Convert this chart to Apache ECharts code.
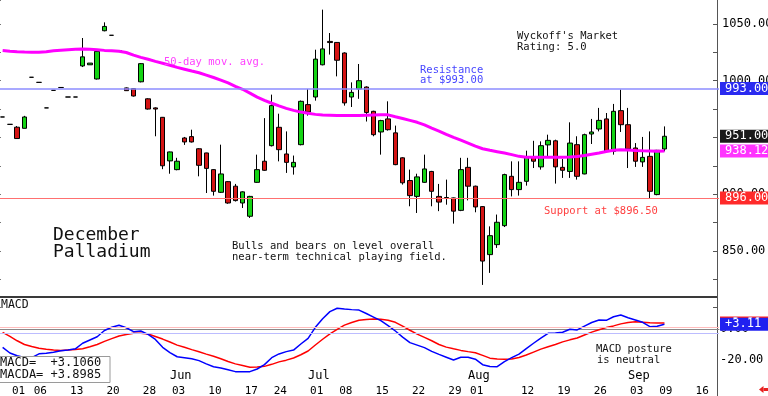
<!DOCTYPE html>
<html><head><meta charset="utf-8">
<script src="https://cdn.jsdelivr.net/npm/echarts@6/dist/echarts.min.js"></script>
<style>html,body{margin:0;padding:0;background:#fff;overflow:hidden}#c{width:768px;height:396px}</style>
</head><body><div id="c"></div>
<script>
// ---------- data ----------
const categories = ['04-30','05-01','05-02','05-03','05-06','05-07','05-08','05-09','05-10','05-13','05-14','05-15','05-16','05-17','05-20','05-21','05-22','05-23','05-24','05-28','05-29','05-30','05-31','06-03','06-04','06-05','06-06','06-07','06-10','06-11','06-12','06-13','06-14','06-17','06-18','06-19','06-20','06-24','06-25','06-26','06-27','06-28','07-01','07-02','07-03','07-05','07-08','07-09','07-10','07-11','07-12','07-15','07-16','07-17','07-18','07-19','07-22','07-23','07-24','07-25','07-26','07-29','07-30','07-31','08-01','08-02','08-05','08-06','08-07','08-08','08-09','08-12','08-13','08-14','08-15','08-16','08-19','08-20','08-21','08-22','08-23','08-26','08-27','08-28','08-29','08-30','09-03','09-04','09-05','09-06','09-09','09-10','09-11','09-12','09-13','09-16','09-17','09-18','09-19'];

const opens = [968,961.5,959,958,1003,998.5,976,991.5,994,985.6,
985.6,1013,1014,1001.5,1044,1040,1026.4,993.6,993,999,
984,976,967.7,929.3,921.6,949.5,950.7,940,936.3,921.6,
901.6,911,907,892.2,880.5,910.4,929,942.7,958.9,935.4,
924,943.6,978.9,985.6,1014,1034.6,1033.7,1024.4,985.6,992.7,
994.4,973,954.8,966.3,954,932,912,898,910.4,920,
898,896.5,896.7,885.7,923.6,907,889,846.7,855.5,872.2,
915.7,904,911.3,932.4,924,943.4,947,923.6,920,943.6,
917.8,953,957.4,966.3,937.7,973.6,961.2,940.7,928.4,933.3,
899.6,939.8];
const closes = [968,961.5,949,968,1003,998.5,976,991.5,994,985.6,
985.6,1021,1015.5,1025.8,1047.8,1040,1026.4,991.2,986.5,1015,
975,975,925,937.2,929,946,946,925.4,922.7,902.5,
917.8,892.2,894.3,902,898,921.6,921,978,939.2,928,
928,981.8,972.4,1019,1028,1033.6,1018,980.4,989.7,1000,
972,952.4,964.8,956.8,926,910,898.7,915.2,922.2,902.5,
893,897,885,921.6,907,888.7,841,863.4,875.2,917.2,
904,910.4,932.4,929,942.7,947.4,924,921,945,915.7,
952.4,954.8,965,937.7,973,961.2,939.8,929,932.4,902.5,
938.6,951];
const lows = [968,961.5,949,958,1003,998.5,976,991.5,994,985.6,
985.6,1012,1014,1001,1043.5,1040,1026.4,991,986,998.5,
974.5,951,922,918,921,943.4,945.5,915.7,901,898.7,
901,891.5,893.5,887.8,879,910,920.5,942,928.9,918.7,
917.2,943,969.2,982.4,1013.5,1023,1003.8,978,976.8,984,
964,951,934.8,956,925.5,908.4,889.3,883.4,910,889.3,
885,890.7,874,885,894.5,884,820,830.6,852.6,871,
898,898.7,907.5,923,921.6,933.3,909.3,914.3,914.3,912.8,
917.5,944.2,955.3,937,934.8,954.8,923,924,924,895.8,
899,937.7];
const highs = [968,961.5,960,969,1003,998.5,976,991.5,994,985.6,
985.6,1037.6,1015.5,1026.5,1051.4,1040,1026.4,994,993.5,1015.5,
984.5,976.5,968,937.5,932,950.4,956.8,940.5,936.5,922,
943.6,911.5,909,902.5,898.5,934.8,967,987.7,970.9,955.3,
934,982.5,992.7,1027.3,1062.6,1042,1034,1025,998.5,1014.7,
995,973.5,965.5,981.8,960.4,932.5,921.6,918,934.8,920.5,
909,912.8,897,932,932,907.5,889.5,871.6,882,918,
928.9,928.9,938.3,947,946.5,952.4,948,931,963.3,951,
953.3,966.3,976,971.5,979.5,992.1,976,945,950.4,955.3,
939,959.7];

const ma50 = [1026.6,1026,1025.5,1025.2,1025,1025,1025.5,1026.3,1026.8,1027.2,
1027.6,1028,1027.8,1027.3,1026.7,1026.4,1025.9,1024.8,1022.5,1020.5,
1018.9,1017,1015.3,1013.6,1011.7,1010.1,1008.5,1007,1004.9,1002.8,
1000.5,998,995,992.4,989,985.5,982.7,980.1,977.8,975.6,
973.8,972.3,971.3,970.3,969.8,969.6,969.4,969.3,969.3,969.4,
969.6,969.8,970,969.9,968.2,966.6,965,963.3,961,958.2,
955.6,952.7,950,947.6,945,942.3,940,938.6,937.4,936.2,
934.8,933.3,932.6,932.4,932.4,932.4,932.4,932.5,932.8,933.2,
934,935.2,936.3,937.5,938.6,939.2,939,938.5,938.2,938,
937.8,938.12];

const macd = [-11.8,-15.5,-17.3,-18.3,-18.5,-16,-15.7,-15,-14,-13.5,
-12.8,-9.2,-7.1,-5,-1,1.1,2.4,0.8,-1.7,-1.3,
-3.5,-6.7,-11.8,-15.2,-17.9,-18.5,-19.2,-20.4,-22.5,-24.4,
-25.2,-26.3,-27.5,-27.5,-27.5,-25.8,-23,-18.5,-16.1,-14.6,
-13.6,-9.7,-6,1.1,6.6,11.2,13.4,12.9,12.5,12.2,
10,7.7,5.4,2.2,-1.3,-5.2,-8.8,-10.4,-12,-14.4,
-16.4,-18.2,-20,-18.2,-18.2,-19.5,-23,-24.2,-24.3,-21,
-18.5,-16.2,-12.6,-9.2,-5.9,-2.8,-2.5,-2.1,-0.2,-0.6,
1.9,4.2,5.8,5.6,7.9,9,7.3,5.8,4.3,1.5,
1.8,3.106];
const macda = [-2.2,-4.8,-7.6,-10,-11.3,-12.4,-13,-13.5,-13.8,-13.5,
-13.2,-12.7,-11.5,-10,-8,-6.2,-4.5,-3.5,-2.8,-2.8,
-3.2,-4.8,-6.5,-8.4,-10.4,-11.8,-13.3,-14.7,-16.2,-17.6,
-19.2,-21,-22.5,-23.6,-24.7,-24.5,-24.1,-22.8,-21.2,-20.1,
-18.7,-16.6,-14.2,-10.3,-6.6,-3.1,-0.2,2.5,4.2,5.7,
6.1,6.5,6.3,5.7,4.3,1.8,-0.8,-3.3,-5.4,-7.6,
-10,-11.7,-12.8,-13.8,-14.6,-15.3,-17,-18.8,-19.4,-19.5,
-19.4,-18.4,-16.8,-14.9,-13,-11.4,-10,-8.3,-7,-5.8,
-3.9,-2,-0.5,0.9,2,3.3,4.2,4.6,4.3,4,
3.9,3.8985];

const dayTickDates = ['05-01','05-06','05-13','05-20','05-28','06-03','06-10','06-17','06-24','07-01','07-08','07-15','07-22','07-29','08-01','08-12','08-19','08-26','09-03','09-09','09-16'];
const monthStartDates = ['06-03','07-01','08-01','09-03'];
const monthNames = ['Jun','Jul','Aug','Sep'];
const priceTickLabels = [850, 900, 950, 1000, 1050];
const macdTickLabels = [0, -20];
const resistanceLevel = 993.0;
const supportLevel = 896.5;
const supportTag = '896.00';
const macdGuideLevels = [1.1, -2.6];

// ---------- chart ----------
const MONO = '"DejaVu Sans Mono", monospace';
const chart = echarts.init(document.getElementById('c'), null, {renderer: 'canvas'});
const candleData = opens.map((o, i) => [o, closes[i], lows[i], highs[i]]);
const lastI = opens.length - 1;
const HIDDEN = {color: 'rgba(0,0,0,0)', width: 0};
const tagLabel = {show: true, position: 'end', distance: 1, color: '#fff', fontFamily: MONO, fontSize: 12, padding: [1, 20, 0, 5]};
const tag = (text, bg) => Object.assign({}, tagLabel, {formatter: text, backgroundColor: bg});
const fmtSigned = v => (v >= 0 ? '+' : '') + v.toFixed(2);

const option = {
  animation: false,
  backgroundColor: '#fff',
  grid: [
    {left: -1, right: 49, top: 0, height: 307.6, outerBoundsMode: 'none', containLabel: false},
    {left: -1, right: 49, top: 298, height: 85.25, outerBoundsMode: 'none', containLabel: false}
  ],
  xAxis: [
    {gridIndex: 0, type: 'category', data: categories, show: false, boundaryGap: true},
    {gridIndex: 1, type: 'category', data: categories, position: 'bottom', boundaryGap: true,
     axisLine: {lineStyle: {color: '#888', width: 1}},
     axisTick: {alignWithLabel: true, interval: (i, v) => dayTickDates.includes(v), length: 14, lineStyle: {color: '#444'}},
     axisLabel: {interval: (i, v) => dayTickDates.includes(v), formatter: v => v.slice(3), align: 'left', padding: [0, 0, 0, 2], margin: 2, fontFamily: MONO, fontSize: 11, color: '#000'},
     splitLine: {show: false}},
    {gridIndex: 1, type: 'category', data: categories, position: 'bottom', boundaryGap: true,
     axisLine: {show: false}, axisTick: {show: false},
     axisLabel: {inside: true, interval: (i, v) => monthStartDates.includes(v), formatter: v => monthNames[monthStartDates.indexOf(v)] || '', align: 'left', margin: 1, fontFamily: MONO, fontSize: 12, color: '#000'},
     splitLine: {show: false}}
  ],
  yAxis: [
    {gridIndex: 0, type: 'value', position: 'right', offset: -2, min: 800, max: 1071.1, interval: 25,
     axisLine: {show: true, lineStyle: {color: '#555'}},
     axisTick: {show: true, inside: true, length: 4, lineStyle: {color: '#555'}},
     splitLine: {show: false},
     axisLabel: {showMaxLabel: false, formatter: v => priceTickLabels.includes(v) ? v.toFixed(2) : '', fontFamily: MONO, fontSize: 12, color: '#000', margin: 5}},
    {gridIndex: 0, type: 'value', position: 'left', min: 800, max: 1071.1, interval: 25,
     axisLine: {show: false}, axisTick: {show: true, inside: true, length: 2, lineStyle: {color: '#777'}},
     axisLabel: {show: false}, splitLine: {show: false}},
    {gridIndex: 1, type: 'value', position: 'right', offset: -2, min: -35, max: 20, interval: 5,
     axisLine: {show: true, lineStyle: {color: '#555'}},
     axisTick: {show: false}, splitLine: {show: false},
     axisLabel: {formatter: v => macdTickLabels.includes(v) ? v.toFixed(2) : '', fontFamily: MONO, fontSize: 12, color: '#000', margin: 3}}
  ],
  series: [
    {type: 'candlestick', xAxisIndex: 0, yAxisIndex: 0, data: candleData, barWidth: 5, z: 2,
     itemStyle: {color: '#14d414', color0: '#d41414', borderColor: '#000', borderColor0: '#000', borderWidth: 1},
     markLine: {symbol: 'none', silent: true, animation: false, label: tagLabel,
       data: [
         {yAxis: resistanceLevel, lineStyle: {color: '#8c8cff', width: 1.5, type: 'solid'}, label: tag(resistanceLevel.toFixed(2), '#2a2af0')},
         {yAxis: supportLevel, lineStyle: {color: '#ff7070', width: 1, type: 'solid'}, label: tag(supportTag, '#ff2a2a')},
         {yAxis: closes[lastI], lineStyle: HIDDEN, label: tag(closes[lastI].toFixed(2), '#1a1a1a')}
       ]}},
    {type: 'line', xAxisIndex: 0, yAxisIndex: 0, data: ma50, symbol: 'none', z: 3,
     lineStyle: {color: '#ff00ff', width: 3}, itemStyle: {color: '#ff00ff'},
     markLine: {symbol: 'none', silent: true, animation: false,
       data: [{yAxis: ma50[lastI], lineStyle: HIDDEN, label: tag(ma50[lastI].toFixed(2), '#ff33ff')}]}},
    {type: 'line', xAxisIndex: 1, yAxisIndex: 2, data: macda, symbol: 'none', z: 2,
     lineStyle: {color: '#ff0000', width: 1.5}, itemStyle: {color: '#ff0000'},
     markLine: {symbol: 'none', silent: true, animation: false,
       data: [
         {yAxis: macdGuideLevels[0], lineStyle: {color: '#ffbcbc', width: 1, type: 'solid'}, label: {show: false}},
         {yAxis: macda[lastI], lineStyle: HIDDEN, label: tag(fmtSigned(macda[lastI]), '#ff2020')}
       ]}},
    {type: 'line', xAxisIndex: 1, yAxisIndex: 2, data: macd, symbol: 'none', z: 3,
     lineStyle: {color: '#0000ff', width: 1.5}, itemStyle: {color: '#0000ff'},
     markLine: {symbol: 'none', silent: true, animation: false,
       data: [
         {yAxis: macdGuideLevels[1], lineStyle: {color: '#bcbcff', width: 1, type: 'solid'}, label: {show: false}},
         {yAxis: macd[lastI], lineStyle: HIDDEN, label: tag(fmtSigned(macd[lastI]), '#2020f0')}
       ]}}
  ],
  graphic: [
    {type: 'rect', shape: {x: 0, y: 296, width: 717, height: 2}, style: {fill: '#3a3a3a'}, z: 50},
    {type: 'line', shape: {x1: 717.5, y1: 383, x2: 717.5, y2: 396}, style: {stroke: '#555', lineWidth: 1}, z: 50},
    {type: 'text', x: 517, y: 36.5, style: {text: "Wyckoff's Market", font: '10.5px ' + MONO, fill: '#111', verticalAlign: 'middle'}, z: 60},
    {type: 'text', x: 517, y: 47, style: {text: 'Rating: 5.0', font: '10.5px ' + MONO, fill: '#111', verticalAlign: 'middle'}, z: 60},
    {type: 'text', x: 420, y: 70.5, style: {text: 'Resistance', font: '10.5px ' + MONO, fill: '#4646ff', verticalAlign: 'middle'}, z: 60},
    {type: 'text', x: 420, y: 80.5, style: {text: 'at $993.00', font: '10.5px ' + MONO, fill: '#4646ff', verticalAlign: 'middle'}, z: 60},
    {type: 'text', x: 164, y: 62.5, style: {text: '50-day mov. avg.', font: '10.5px ' + MONO, fill: '#ff40ff', verticalAlign: 'middle'}, z: 60},
    {type: 'text', x: 544, y: 211, style: {text: 'Support at $896.50', font: '10.5px ' + MONO, fill: '#ff4040', verticalAlign: 'middle'}, z: 60},
    {type: 'text', x: 53, y: 235.5, style: {text: 'December', font: '18px ' + MONO, fill: '#111', verticalAlign: 'middle'}, z: 60},
    {type: 'text', x: 53, y: 252.5, style: {text: 'Palladium', font: '18px ' + MONO, fill: '#111', verticalAlign: 'middle'}, z: 60},
    {type: 'text', x: 232, y: 246.5, style: {text: 'Bulls and bears on level overall', font: '10.5px ' + MONO, fill: '#111', verticalAlign: 'middle'}, z: 60},
    {type: 'text', x: 232, y: 257.5, style: {text: 'near-term technical playing field.', font: '10.5px ' + MONO, fill: '#111', verticalAlign: 'middle'}, z: 60},
    {type: 'text', x: 1, y: 305, style: {text: 'MACD', font: '11.5px ' + MONO, fill: '#111', verticalAlign: 'middle'}, z: 60},
    {type: 'text', x: 596, y: 349, style: {text: 'MACD posture', font: '10.5px ' + MONO, fill: '#111', verticalAlign: 'middle'}, z: 60},
    {type: 'text', x: 597, y: 360, style: {text: 'is neutral', font: '10.5px ' + MONO, fill: '#111', verticalAlign: 'middle'}, z: 60},
    {type: 'rect', shape: {x: -1, y: 356.5, width: 111, height: 26}, style: {fill: '#fff', stroke: '#9a9a9a', lineWidth: 1}, z: 70},
    {type: 'text', x: 0, y: 363, style: {text: 'MACD=  ' + (macd[lastI] >= 0 ? '+' : '') + macd[lastI].toFixed(4), font: '12px ' + MONO, fill: '#111', verticalAlign: 'middle'}, z: 71},
    {type: 'text', x: 0, y: 375, style: {text: 'MACDA= ' + (macda[lastI] >= 0 ? '+' : '') + macda[lastI].toFixed(4), font: '12px ' + MONO, fill: '#111', verticalAlign: 'middle'}, z: 71},
    {type: 'polygon', shape: {points: [[759, 389.5], [763.5, 386], [763.5, 393]]}, style: {fill: '#e82020'}, z: 60},
    {type: 'rect', shape: {x: 763.5, y: 388, width: 5, height: 3}, style: {fill: '#e82020'}, z: 60}
  ]
};
chart.setOption(option);
</script>
</body></html>
